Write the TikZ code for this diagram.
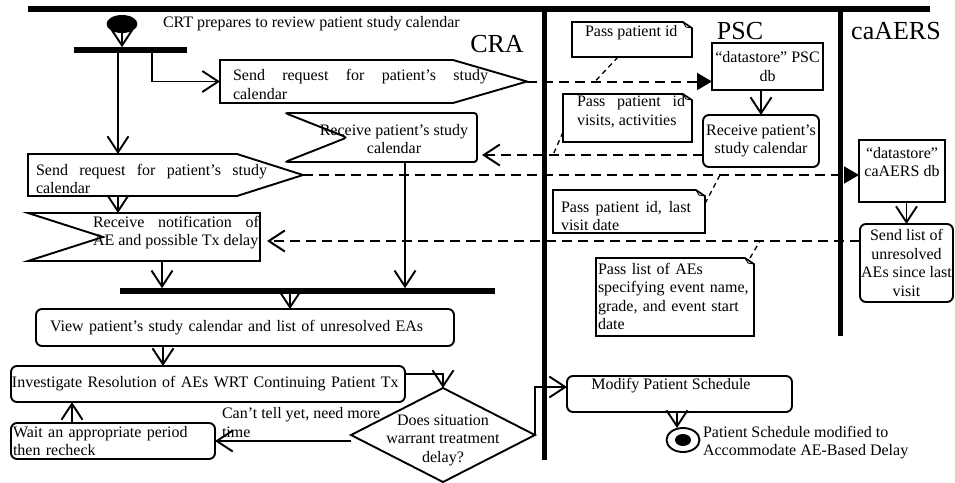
\documentclass[tikz,border=0pt]{standalone}
\usepackage{fontspec}
\setmainfont{Liberation Serif}
\usetikzlibrary{arrows.meta,shapes.geometric,calc}
\hyphenpenalty=10000
\exhyphenpenalty=10000
\begin{document}
\begin{tikzpicture}[x=1pt,y=-1pt,line width=1.9pt,
  every node/.style={font=\fontsize{16}{18.5}\selectfont, inner sep=0pt, outer sep=0pt},
  arr/.style={-{Straight Barb[length=16pt,width=21pt]}},
  tri/.style={-{Triangle[length=15pt,width=17pt]}},
  msg/.style={dash pattern=on 10pt off 6pt, line width=2pt},
  lnk/.style={dash pattern=on 5pt off 4pt, line width=1.3pt},
  bar/.style={fill=black, minimum height=5.5pt},
  rbox/.style={draw, rounded corners=6pt},
  lanetitle/.style={font=\fontsize{26}{28}\selectfont},
]
\useasboundingbox (0,0) rectangle (955,482);

% swimlanes
\draw[line width=6pt] (28,9) -- (930,9);
\draw[line width=5pt] (544,9) -- (544,460);
\draw[line width=5pt] (840,9) -- (840,336);
\node[lanetitle] (tcra) at (497,44) {CRA};
\node[lanetitle] (tpsc) at (740,31) {PSC};
\node[lanetitle] (tcae) at (896,31) {caAERS};

% start
\node[ellipse, fill, minimum width=31pt, minimum height=18pt] (start) at (122,24) {};
\node[anchor=west] (starttxt) at (163,24) {CRT prepares to review patient study calendar};
\node[bar, minimum width=113pt] (fork1) at (130.5,50) {};
\draw[arr] (start.south) -- (start.south |- fork1.north);

% send request (upper)
\node[minimum width=307pt, minimum height=43pt] (send1) at (373.5,81.5) {};
\draw (send1.north west) -- ($(send1.north east)+(-74,0)$) -- (send1.east) -- ($(send1.south east)+(-74,0)$) -- (send1.south west) -- cycle;
\node[text width=255pt, align=justify] (send1t) at (360.5,84.5) {Send request for patient’s study\linebreak calendar};
\draw[arr] ($(fork1.south west)+(78,0)$) |- (send1.west);

% send request (lower)
\node[minimum width=275pt, minimum height=42pt] (send2) at (165.5,175) {};
\draw (send2.north west) -- ($(send2.north east)+(-66,0)$) -- (send2.east) -- ($(send2.south east)+(-66,0)$) -- (send2.south west) -- cycle;
\node[text width=231pt, align=justify] (send2t) at (151.5,179) {Send request for patient’s study\linebreak calendar};
\draw[arr] ($(fork1.south west)+(44,0)$) coordinate (q1) -- (q1 |- send2.north);

% receive notification
\node[minimum width=232pt, minimum height=48pt] (rnot) at (144,237) {};
\draw (rnot.north west) -- (rnot.north east) -- (rnot.south east) -- (rnot.south west) -- ($(rnot.west)+(75,0)$) -- cycle;
\node[text width=166pt, align=justify] (rnott) at (176,232.5) {Receive notification of\linebreak AE and possible Tx delay};
\draw[arr] ($(send2.south west)+(90,0)$) coordinate (q2) -- (q2 |- rnot.north);

% receive calendar (CRA)
\node[minimum width=192pt, minimum height=49pt] (crecv) at (381,137.5) {};
\draw[rounded corners=3pt] (crecv.north west) -- (crecv.north east) -- (crecv.south east) -- (crecv.south west) -- ($(crecv.west)+(62,0)$) -- cycle;
\node[align=center] (crecvt) at (394,139) {Receive patient’s study\\calendar};

% fork 2
\node[bar, minimum width=375pt] (fork2) at (307.5,291) {};
\draw[arr] ($(crecv.south west)+(120,0)$) coordinate (q3) -- (q3 |- fork2.north);
\draw[arr] ($(rnot.south west)+(134,0)$) coordinate (q4) -- (q4 |- fork2.north);

% PSC
\node[draw, minimum width=111pt, minimum height=47pt, align=center] (pds) at (767.5,66.5) {“datastore” PSC\\db};
\node[rbox, minimum width=116pt, minimum height=52pt, align=center] (precv) at (761,141) {Receive patient’s\\study calendar};
\draw[arr] (precv.north |- pds.south) -- (precv.north);

% caAERS
\node[draw, minimum width=86pt, minimum height=62pt] (cds) at (902,171) {};
\node[align=center] (cdst) at (902,162) {“datastore”\\caAERS db};
\node[rbox, minimum width=93pt, minimum height=78pt, align=center] (slist) at (906.5,263) {Send list of\\unresolved\\AEs since last\\visit};
\draw[arr] (slist.north |- cds.south) -- (slist.north);

% messages
\draw[msg, tri] (send1.east) -- (send1.east -| pds.west);
\draw[msg, arr] ($(precv.west)+(0,14)$) coordinate (m2) -- ($(m2 -| crecv.east)+(5,0)$);
\draw[msg, tri] (send2.east) -- (send2.east -| cds.west);
\draw[msg, arr] ($(slist.west)+(0,-22)$) coordinate (m4) -- ($(m4 -| rnot.east)+(7,0)$);

% notes
\node[minimum width=120pt, minimum height=35pt] (n1) at (632,39.5) {};
\node[anchor=west] (n1t) at (585,33) {Pass patient id};
\node[minimum width=129pt, minimum height=48pt] (n2) at (627.5,118) {};
\node[text width=108pt, align=justify] (n2t) at (631,111.5) {Pass patient id\linebreak visits, activities};
\node[minimum width=152pt, minimum height=43pt] (n3) at (629,211.5) {};
\node[text width=130pt, align=justify] (n3t) at (626,216) {Pass patient id, last\linebreak visit date};
\node[minimum width=158pt, minimum height=78pt] (n4) at (675,297) {};
\node[text width=154pt, align=left] (n4t) at (675,296.5) {Pass list of AEs\\specifying event name,\\grade, and event start\\date};
\foreach \n in {n1,n2,n3,n4} {
  \draw[line width=1.6pt] (\n.north west) -- ($(\n.north east)+(-9,0)$) -- ($(\n.north east)+(0,6)$) -- (\n.south east) -- (\n.south west) -- cycle;
  \draw[line width=0.9pt] ($(\n.north east)+(-9,0)$) -- ($(\n.north east)+(-6,5)$) -- ($(\n.north east)+(0,6)$);
}
\coordinate (c1) at (595,81.5);
\draw[lnk] ($(n1.south west)+(46,0)$) -- (c1);
\coordinate (c2) at (553,155);
\draw[lnk] ($(n2.south west)+(0,-10)$) -- (c2);
\coordinate (c3) at (720,175);
\draw[lnk] ($(n3.east)+(0,-8)$) -- (c3);
\coordinate (c4) at (760,241);
\draw[lnk] ($(n4.north east)+(-4,0)$) -- (c4);

% view and investigate
\node[rbox, minimum height=37pt, text width=390pt, inner xsep=14pt, align=left] (view) at (245,327.5) {View patient’s study calendar and list of unresolved EAs};
\draw[arr] ($(fork2.south west)+(170,0)$) coordinate (q5) -- (q5 |- view.north);
\node[rbox, minimum height=36pt, text width=392pt, inner xsep=1pt, align=left] (inv) at (208,384) {Investigate Resolution of AEs WRT Continuing Patient Tx};
\draw[arr] ($(view.south west)+(127,0)$) coordinate (q6) -- (q6 |- inv.north);

% decision
\node[diamond, draw, minimum width=184pt, minimum height=94pt] (dia) at (443,435) {};
\node[align=center] (diat) at (443,440) {Does situation\\warrant treatment\\delay?};
\draw[arr] ($(inv.east)+(0,-10)$) -| (dia.north);

\node[rbox, minimum width=204pt, minimum height=36pt, text width=200pt, inner xsep=2pt, align=left] (wait) at (113,441) {Wait an appropriate period\\then recheck};
\draw[arr] (dia.west |- wait.east) -- (wait.east);
\draw[arr] ($(wait.north west)+(61,0)$) coordinate (q7) -- (q7 |- inv.south);
\node[anchor=west, align=left] (lbl) at (222,422.5) {Can’t tell yet, need more\\time};

% modify and end
\node[rbox, minimum width=225pt, minimum height=36pt] (modify) at (679.5,394) {};
\node (modt) at (671,386) {Modify Patient Schedule};
\draw[arr] (dia.east) |- ($(modify.west)+(0,-7)$);
\node[ellipse, draw, minimum width=33pt, minimum height=24pt] (endn) at (683,440) {};
\node[ellipse, fill, minimum width=16pt, minimum height=12pt] (endd) at (683,440) {};
\draw[arr] ($(modify.south west)+(110,0)$) coordinate (q8) -- (q8 |- endn.north);
\node[anchor=west, align=left] (endt) at (703,442.5) {Patient Schedule modified to\\Accommodate AE-Based Delay};
\end{tikzpicture}
\end{document}
